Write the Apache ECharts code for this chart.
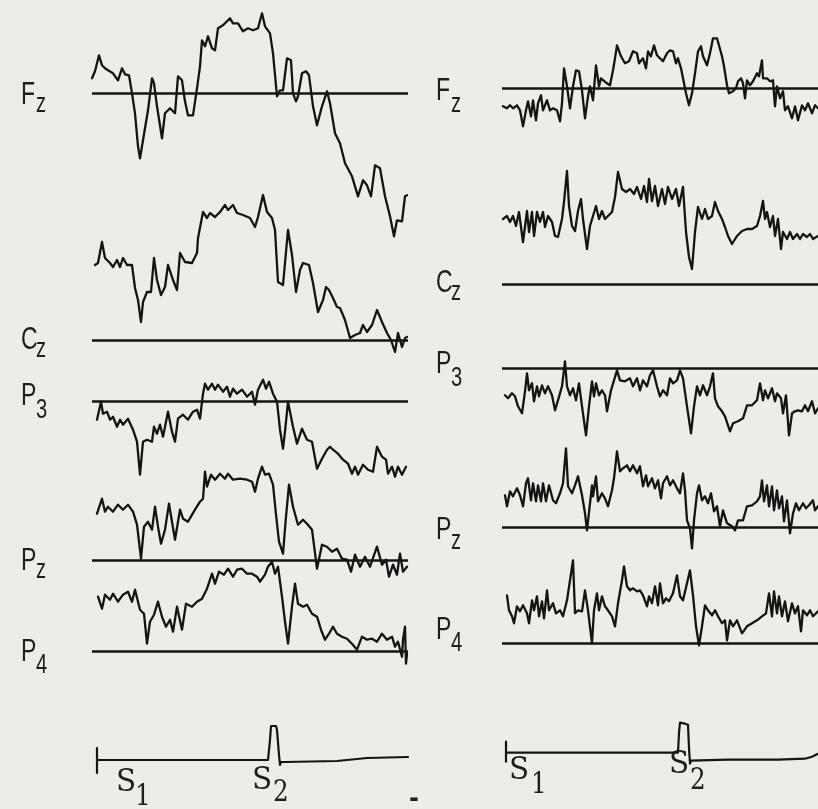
<!DOCTYPE html>
<html><head><meta charset="utf-8">
<script src="https://cdn.jsdelivr.net/npm/echarts/dist/echarts.min.js"></script>
<style>html,body{margin:0;padding:0;background:#ebede6}#c{width:818px;height:809px}</style>
</head><body><div id="c"></div><script>
// ---- data: [time (sweep units), amplitude] ----
const LEFT_FZ = [[0,15],[3,22],[7,38],[10,28],[13,25],[16,23],[21,20],[26,13],[30,25],[33,19],[37,18],[40,0],[43,-20],[46,-53],[48,-65],[51,-47],[56,-17],[60,15],[62,10],[65,-13],[70,-45],[73,-20],[78,-15],[83,-20],[86,17],[90,13],[93,-8],[96,-22],[101,-22],[105,5],[108,27],[110,53],[113,47],[116,57],[120,45],[123,43],[126,65],[131,68],[138,75],[141,70],[146,70],[151,62],[156,65],[161,63],[166,65],[170,80],[173,67],[178,60],[181,40],[185,-3],[188,3],[191,3],[195,35],[199,33],[201,0],[204,-8],[206,-3],[210,20],[214,22],[217,18],[221,-13],[225,-32],[230,-13],[235,2],[238,-10],[243,-40],[248,-50],[253,-70],[260,-83],[266,-103],[271,-87],[275,-92],[279,-103],[283,-72],[288,-75],[293,-103],[298,-123],[302,-143],[305,-127],[310,-128],[313,-103],[315,-102]];
const LEFT_CZ = [[3,75],[6,77],[10,98],[13,82],[18,77],[21,73],[25,80],[28,73],[31,82],[35,75],[40,75],[43,52],[46,40],[49,18],[51,38],[55,48],[59,48],[62,82],[65,60],[69,45],[73,53],[76,75],[81,60],[85,50],[88,87],[93,78],[100,77],[105,87],[106,102],[111,128],[115,122],[118,127],[123,123],[128,128],[133,135],[136,130],[141,135],[145,127],[151,125],[158,122],[163,113],[166,123],[171,145],[175,128],[180,122],[183,110],[186,58],[191,55],[196,110],[200,85],[204,48],[208,70],[211,77],[217,75],[221,57],[226,28],[231,40],[234,53],[237,50],[241,42],[245,33],[248,32],[253,20],[258,2],[263,5],[268,7],[271,15],[275,8],[280,15],[285,30],[290,18],[295,7],[299,0],[303,-12],[306,7],[310,-7],[313,2],[315,3]];
const LEFT_P3 = [[5,-18],[9,0],[11,-12],[15,-10],[18,-18],[21,-15],[25,-25],[28,-18],[31,-23],[36,-17],[41,-28],[45,-40],[48,-73],[51,-40],[55,-38],[60,-40],[62,-25],[65,-32],[68,-23],[71,-35],[76,-10],[80,-30],[83,-40],[86,-17],[91,-13],[96,-18],[101,-10],[105,-8],[108,-17],[111,8],[113,18],[116,12],[120,18],[123,12],[126,17],[131,10],[135,15],[138,5],[141,13],[145,8],[150,12],[155,5],[160,10],[163,-3],[166,12],[171,22],[174,13],[177,20],[181,8],[185,0],[188,-28],[191,-47],[193,-30],[196,0],[201,-25],[205,-42],[210,-27],[215,-38],[220,-40],[225,-67],[230,-57],[235,-48],[238,-45],[241,-48],[246,-52],[251,-58],[256,-62],[260,-72],[263,-65],[266,-73],[271,-63],[276,-68],[281,-70],[285,-45],[290,-55],[294,-58],[296,-72],[300,-65],[303,-75],[306,-65],[310,-73],[314,-65]];
const LEFT_PZ = [[5,47],[10,62],[13,49],[16,54],[21,49],[26,56],[31,51],[36,56],[41,49],[45,36],[49,2],[52,34],[56,39],[60,31],[63,54],[66,34],[69,17],[73,31],[77,57],[80,39],[83,21],[88,51],[91,42],[96,39],[103,51],[108,59],[111,62],[113,89],[115,74],[119,86],[123,81],[128,87],[133,82],[136,87],[141,81],[148,82],[155,81],[160,79],[163,69],[166,82],[170,94],[173,86],[177,87],[181,76],[184,46],[187,19],[191,7],[194,44],[197,76],[201,54],[206,36],[211,41],[215,37],[220,31],[225,-8],[230,16],[235,14],[240,9],[245,12],[250,2],[255,1],[259,-11],[263,6],[268,-6],[273,4],[278,-6],[285,14],[290,-4],[294,1],[297,-16],[301,-4],[305,-14],[308,7],[311,-11],[315,-6]];
const LEFT_P4 = [[6,55],[10,43],[13,57],[18,52],[21,58],[26,50],[31,57],[36,60],[40,50],[43,62],[48,42],[52,38],[55,8],[58,30],[62,37],[66,50],[70,35],[74,25],[78,32],[81,20],[85,45],[90,22],[94,48],[100,45],[105,50],[110,53],[115,63],[120,78],[123,68],[127,80],[132,77],[136,83],[141,75],[145,82],[150,83],[155,78],[160,78],[165,75],[168,70],[173,77],[176,85],[180,90],[183,78],[186,85],[190,55],[193,30],[196,8],[200,45],[203,68],[206,48],[211,45],[215,47],[220,38],[225,35],[229,22],[233,12],[237,18],[241,25],[245,18],[250,15],[255,13],[260,8],[265,2],[270,15],[275,12],[280,13],[285,10],[290,18],[295,12],[300,15],[303,5],[306,10],[310,-5],[311,12],[313,25],[314,-12],[315,-2]];
const LEFT_STIM = [[5,12],[5,-13],[5,0],[176,0],[178,20],[179,34],[184,34],[185,30],[187,5],[188,-5],[189,-2],[193,-2],[245,-1],[275,2],[316,3]];

const RIGHT_FZ = [[1,-18],[5,-20],[8,-17],[11,-20],[15,-17],[18,-22],[21,-38],[24,-22],[26,-13],[29,-28],[31,-12],[34,-32],[36,-15],[39,-7],[41,-22],[43,-20],[45,-12],[48,-22],[51,-20],[55,-22],[58,-33],[60,-15],[62,20],[65,2],[68,-20],[71,2],[74,18],[77,17],[80,-2],[83,-30],[86,-8],[88,2],[91,-12],[94,23],[97,2],[99,10],[101,12],[105,5],[108,3],[111,18],[113,30],[115,43],[119,32],[123,25],[127,27],[131,37],[135,35],[137,25],[141,30],[144,20],[146,37],[149,32],[152,43],[155,33],[158,30],[161,27],[165,35],[168,38],[171,37],[174,25],[176,30],[179,20],[181,10],[184,-5],[187,-17],[190,-5],[193,15],[196,37],[199,42],[201,32],[205,23],[208,35],[211,50],[215,50],[217,50],[220,32],[222,22],[225,3],[227,-5],[231,-3],[234,0],[236,7],[239,10],[241,5],[243,-10],[245,8],[248,3],[251,7],[255,15],[257,12],[260,28],[261,10],[265,10],[268,7],[271,8],[273,-18],[275,2],[278,-10],[281,-3],[283,-22],[286,-18],[290,-30],[293,-18],[296,-32],[300,-17],[303,-22],[306,-15],[310,-25],[313,-17],[316,-20]];
const RIGHT_CZ = [[1,65],[5,68],[8,62],[11,68],[14,58],[17,72],[21,42],[25,73],[27,52],[30,72],[32,48],[35,72],[38,62],[41,72],[43,57],[46,68],[50,62],[53,48],[56,47],[60,65],[62,82],[65,113],[67,78],[70,58],[73,53],[76,73],[79,85],[81,65],[85,35],[88,58],[91,68],[94,78],[97,65],[100,73],[103,65],[106,68],[110,72],[113,87],[116,112],[120,95],[124,92],[128,95],[132,90],[135,97],[139,85],[142,98],[145,82],[147,105],[150,83],[153,98],[156,78],[160,95],[163,80],[166,97],[170,85],[174,95],[177,78],[181,97],[184,52],[187,27],[190,15],[193,52],[196,77],[200,65],[203,75],[206,65],[210,68],[213,82],[216,73],[220,65],[223,57],[226,48],[230,40],[235,48],[240,53],[245,55],[250,55],[255,58],[258,68],[261,83],[263,65],[265,72],[268,57],[271,68],[273,48],[276,65],[279,35],[281,52],[285,45],[288,52],[291,45],[295,50],[298,45],[301,50],[305,47],[308,50],[311,45],[316,48]];
const RIGHT_P3 = [[3,-27],[6,-30],[10,-25],[13,-28],[16,-38],[20,-45],[23,-23],[25,-5],[27,-22],[30,-15],[32,-33],[35,-18],[37,-28],[40,-17],[43,-25],[46,-18],[50,-27],[53,-42],[56,-32],[60,-18],[63,7],[65,-18],[68,-27],[71,-20],[74,-32],[77,-15],[80,-38],[84,-67],[87,-38],[90,-13],[92,-28],[94,-15],[97,-27],[100,-22],[103,-27],[105,-43],[109,-22],[112,-12],[115,-2],[118,-12],[123,-13],[128,-10],[131,-18],[135,-10],[138,-22],[141,-12],[145,-18],[148,-7],[151,-2],[155,-18],[158,-28],[161,-22],[165,-27],[168,-10],[171,-15],[175,-12],[178,-2],[181,-10],[185,-38],[189,-65],[192,-38],[195,-18],[198,-27],[201,-17],[205,-27],[208,-18],[211,-5],[213,-30],[216,-38],[220,-43],[223,-48],[228,-63],[231,-55],[236,-53],[241,-50],[245,-37],[250,-37],[255,-32],[258,-15],[261,-32],[263,-22],[266,-30],[270,-20],[273,-33],[275,-25],[279,-30],[281,-45],[284,-27],[287,-67],[290,-45],[293,-43],[296,-42],[300,-43],[303,-37],[306,-43],[310,-33],[313,-45],[316,-40]];
const RIGHT_PZ = [[3,32],[5,21],[8,36],[11,31],[15,39],[18,32],[21,21],[24,44],[26,49],[29,27],[31,44],[34,26],[36,42],[39,26],[41,44],[44,26],[47,42],[51,27],[54,24],[58,34],[61,44],[64,79],[66,41],[70,34],[73,42],[76,51],[80,32],[83,14],[85,-3],[88,24],[90,42],[91,31],[94,51],[96,26],[100,34],[103,29],[106,21],[110,37],[112,49],[115,76],[118,56],[121,59],[125,62],[128,56],[131,62],[135,54],[138,61],[141,41],[144,52],[146,41],[150,49],[153,39],[156,47],[159,29],[161,44],[165,51],[168,42],[171,47],[175,39],[178,34],[181,54],[183,37],[185,7],[188,-1],[190,-21],[192,7],[195,34],[197,42],[200,27],[203,31],[206,24],[209,34],[212,16],[215,21],[218,1],[221,17],[225,4],[230,1],[233,-3],[236,7],[241,7],[245,21],[250,22],[255,26],[258,31],[260,47],[262,26],[265,42],[267,21],[270,41],[272,17],[275,37],[277,19],[280,31],[282,6],[285,27],[288,-6],[291,14],[294,24],[297,17],[301,24],[304,19],[307,22],[311,27],[313,17],[316,21]];
const RIGHT_P4 = [[5,48],[7,33],[10,27],[12,20],[15,37],[18,32],[21,38],[25,30],[27,20],[30,43],[32,33],[35,47],[37,27],[40,42],[42,25],[45,53],[47,33],[51,40],[54,30],[58,33],[61,27],[65,43],[68,63],[71,83],[73,30],[76,33],[80,32],[83,53],[86,33],[90,0],[92,33],[95,50],[97,33],[100,47],[103,37],[106,33],[110,27],[113,17],[116,40],[120,63],[122,77],[125,57],[128,53],[131,55],[135,52],[138,53],[141,48],[145,37],[147,47],[150,40],[153,57],[156,38],[158,60],[161,40],[164,45],[167,42],[171,50],[175,68],[178,47],[181,43],[185,60],[188,73],[191,48],[194,17],[197,-2],[200,17],[203,38],[206,33],[210,28],[213,33],[216,27],[220,20],[223,23],[225,3],[228,23],[231,17],[235,23],[240,10],[245,17],[250,20],[255,23],[260,27],[264,30],[267,50],[270,27],[272,52],[275,30],[277,47],[280,27],[283,42],[286,22],[290,40],[293,30],[296,37],[299,12],[301,33],[305,28],[308,33],[311,27],[316,32]];
const RIGHT_STIM = [[4,11],[4,-9],[4,0],[176,0],[177,20],[178,30],[179,31],[183,29],[186,28],[187,5],[188,-11],[189,-8],[191,-7],[226,-7],[276,-7],[303,-6],[310,-4],[316,-1]];

const CHANNEL_MAIN = ['F','C','P','P','P'];
const CHANNEL_SUB  = ['z','z','3','z','4'];
const STIM_LABELS  = [['S','1'],['S','2']];

// ---- layout (pixels) ----
const W = 818, H = 809, SWEEP = 316;
const PANELS = [
  { x: 92,  traces: [LEFT_FZ, LEFT_CZ, LEFT_P3, LEFT_PZ, LEFT_P4], stim: LEFT_STIM,
    base: [93.3, 340, 401.7, 560.7, 651.7], stimBase: 760,
    lab: { x: 21, main: [95, 340, 396, 561, 652], sub: [104, 349, 410, 570, 665], subDx: 15 },
    sLab: [{x:116, y:783, sx:135, sy:797}, {x:252, y:781, sx:273, sy:793}] },
  { x: 502, traces: [RIGHT_FZ, RIGHT_CZ, RIGHT_P3, RIGHT_PZ, RIGHT_P4], stim: RIGHT_STIM,
    base: [88.3, 284, 368.3, 527.3, 643.3], stimBase: 752.7,
    lab: { x: 436, main: [91.5, 283, 364, 530, 630], sub: [104, 292, 378, 541, 643], subDx: 15 },
    sLab: [{x:509, y:771, sx:531, sy:785}, {x:669, y:765, sx:690, sy:781}] }
];

const grids = [], xAxes = [], yAxes = [], series = [], graphics = [];
const INK = '#141414';
function addTrace(px, base, data, withBaseline, lw) {
  const up = Math.min(150, Math.floor(base) - 1), down = Math.min(150, Math.floor(H - base) - 1);
  const gi = grids.length;
  grids.push({ left: px, top: base - up, width: SWEEP, height: up + down, containLabel: false });
  xAxes.push({ type: 'value', gridIndex: gi, min: 0, max: SWEEP, show: false });
  yAxes.push({ type: 'value', gridIndex: gi, min: -down, max: up, show: false });
  const s = { type: 'line', xAxisIndex: gi, yAxisIndex: gi, data: data, symbol: 'none',
    showSymbol: false, clip: false, silent: true, animation: false,
    lineStyle: { color: INK, width: lw, join: 'round', cap: 'round' } };
  if (withBaseline) {
    s.markLine = { silent: true, symbol: 'none', animation: false, label: { show: false },
      lineStyle: { type: 'solid', color: INK, width: 2.6 }, data: [{ yAxis: 0 }] };
  }
  series.push(s);
}
function txt(x, y, t, size, family, sx, weight) {
  return { type: 'text', x: x, y: y, scaleX: sx, silent: true,
    style: { text: t, font: (weight || 'normal') + ' ' + size + 'px ' + family, fill: '#1e1e1e',
      align: 'left', verticalAlign: 'middle', textAlign: 'left', textVerticalAlign: 'middle' } };
}
PANELS.forEach(p => {
  p.traces.forEach((d, i) => {
    addTrace(p.x, p.base[i], d, true, 2.3);
    graphics.push(txt(p.lab.x, p.lab.main[i], CHANNEL_MAIN[i], 32, '"Liberation Sans", Arial', 0.72));
    graphics.push(txt(p.lab.x + p.lab.subDx, p.lab.sub[i], CHANNEL_SUB[i], 28, '"Liberation Sans", Arial', 0.72));
  });
  addTrace(p.x, p.stimBase, p.stim, false, 2.2);
  p.sLab.forEach((l, k) => {
    graphics.push(txt(l.x, l.y, STIM_LABELS[k][0], 31, '"DejaVu Serif", serif', 0.95));
    graphics.push(txt(l.sx, l.sy, STIM_LABELS[k][1], 29, '"DejaVu Serif", serif', 0.85));
  });
});
graphics.push(txt(409, 800, '-', 24, '"DejaVu Sans"', 1, 'bold'));

const chart = echarts.init(document.getElementById('c'), null, { renderer: 'canvas' });
chart.setOption({
  backgroundColor: '#ebede6',
  animation: false,
  grid: grids, xAxis: xAxes, yAxis: yAxes, series: series, graphic: graphics
});
</script></body></html>
